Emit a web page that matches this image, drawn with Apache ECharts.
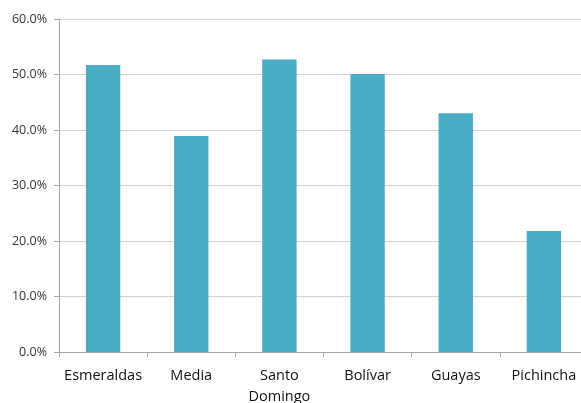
<!DOCTYPE html>
<html><head><meta charset="utf-8">
<script src="https://cdn.jsdelivr.net/npm/echarts@6/dist/echarts.min.js"></script>
<style>html,body{margin:0;padding:0;background:#fff}#c{width:581px;height:403px}</style>
</head><body><div id="c"></div>
<script>
const categories = ["Esmeraldas", "Media", "Santo\nDomingo", "Bolívar", "Guayas", "Pichincha"];
const values = [51.7, 38.9, 52.7, 50.1, 43.0, 21.8];
const yTicks = [0, 10, 20, 30, 40, 50, 60];

const chart = echarts.init(document.getElementById('c'));
chart.setOption({
  animation: false,
  grid: { left: 59, width: 529, top: 19, height: 333, outerBoundsMode: 'none', containLabel: false },
  xAxis: {
    type: 'category', data: categories,
    axisLine: { lineStyle: { color: '#a6a6a6' } },
    axisTick: { show: true, interval: 0, length: 5, lineStyle: { color: '#a6a6a6' } },
    axisLabel: { interval: 0, color: '#111', fontFamily: 'Open Sans', fontSize: 14.5, lineHeight: 21, margin: 13 }
  },
  yAxis: {
    type: 'value', min: yTicks[0], max: yTicks[yTicks.length - 1], interval: 10,
    axisLine: { show: true, lineStyle: { color: '#a6a6a6' } },
    axisTick: { show: true, length: 5, lineStyle: { color: '#a6a6a6' } },
    splitLine: { lineStyle: { color: '#d0d0d0' } },
    axisLabel: { color: '#333', fontFamily: 'Open Sans', fontSize: 12.5, margin: 12,
      formatter: v => v.toFixed(1) + '%' }
  },
  series: [{
    type: 'bar', data: values, barWidth: '39%',
    itemStyle: { color: '#4BACC6' }
  }]
});
</script></body></html>
